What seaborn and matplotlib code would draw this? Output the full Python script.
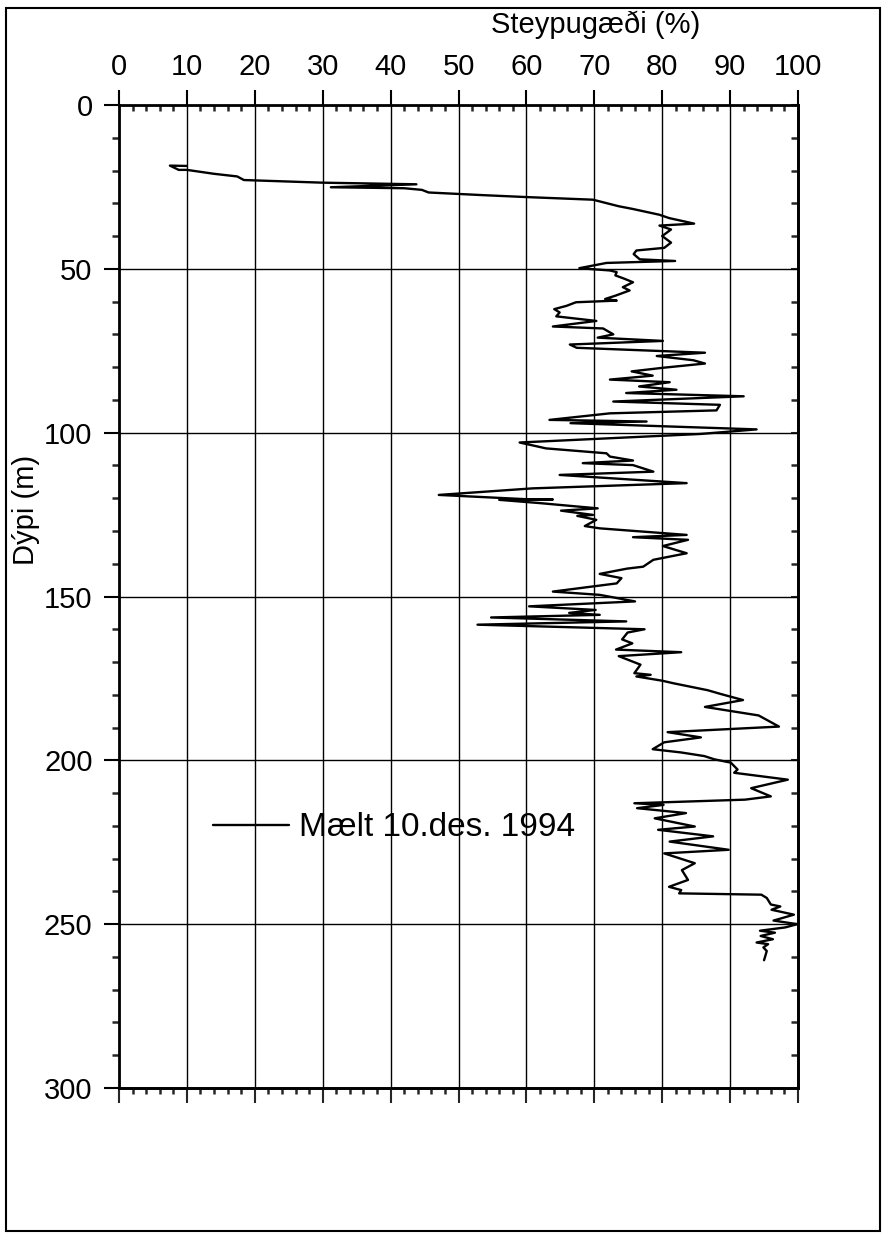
import matplotlib
matplotlib.use('Agg')
import matplotlib.pyplot as plt
import matplotlib.patches as mpatches
from matplotlib.ticker import MultipleLocator
import numpy as np
import pandas as pd
import seaborn as sns

depth = [18.6, 18.5, 19.8, 19.8, 21.0, 21.8, 22.9, 23.7, 24.2, 25.1, 25.4, 25.9, 26.7, 27.5,
         28.1, 28.9, 30.9, 31.7, 33.5, 34.5, 36.2, 36.8, 38.0, 40.0, 42.0, 43.6, 44.4, 45.5,
         47.1, 47.6, 48.2, 49.8, 50.5, 51.0, 52.0, 53.0, 54.1, 55.6, 56.6, 58.2, 59.2, 59.7,
         60.2, 61.3, 62.3, 63.3, 64.5, 65.9, 67.6, 68.2, 70.0, 71.0, 72.0, 73.1, 74.1, 75.6,
         76.6, 77.9, 78.9, 80.2, 81.3, 82.6, 83.8, 84.6, 85.9, 86.9, 87.9, 88.9, 90.5, 91.5,
         93.2, 94.1, 96.1, 96.6, 97.1, 99.0, 100.4, 103.0, 104.8, 106.3, 107.3, 108.5, 109.3,
         109.9, 111.9, 112.9, 115.4, 117.0, 119.0, 120.3, 120.4, 120.5, 121.5, 123.1, 123.8,
         125.1, 125.4, 126.6, 128.5, 129.2, 131.2, 131.9, 132.7, 134.6, 136.8, 138.8, 140.9,
         141.5, 143.1, 144.4, 146.0, 148.5, 149.5, 151.5, 153.0, 154.1, 155.0, 155.6, 156.4,
         157.6, 158.6, 160.0, 161.0, 163.1, 164.3, 166.2, 167.0, 168.2, 170.8, 173.4, 173.9,
         174.4, 175.7, 176.5, 178.6, 179.8, 181.6, 183.7, 184.7, 186.3, 189.7, 191.4, 193.0,
         194.5, 196.6, 197.6, 198.7, 199.7, 200.7, 202.8, 203.8, 205.9, 208.5, 211.0, 212.0,
         213.1, 213.6, 214.6, 216.1, 217.7, 220.2, 221.2, 223.2, 224.8, 227.3, 228.4, 231.4,
         233.5, 236.5, 238.6, 239.6, 240.6, 241.0, 242.0, 244.0, 244.6, 245.6, 247.1, 248.9,
         250.0, 251.0, 252.0, 252.6, 253.6, 254.6, 255.6, 256.1, 257.1, 258.2, 261.0]
quality = [10.0, 7.5, 8.8, 10.0, 14.0, 17.4, 18.4, 29.9, 43.8, 31.2, 42.0, 44.6, 45.6, 53.5,
           60.0, 69.8, 73.6, 75.6, 79.6, 81.0, 84.7, 79.6, 81.3, 80.0, 81.3, 80.3, 76.2, 75.8,
           76.7, 81.9, 71.8, 67.8, 72.3, 73.3, 73.1, 74.4, 75.7, 74.2, 75.2, 73.1, 71.6, 73.3,
           67.3, 65.9, 64.1, 64.9, 64.4, 70.3, 63.9, 71.3, 72.8, 70.5, 80.1, 66.4, 67.4, 86.3,
           79.2, 84.6, 86.3, 80.1, 75.5, 78.6, 72.3, 81.1, 76.6, 82.1, 74.7, 92.0, 72.8, 88.5,
           88.0, 72.3, 63.4, 77.7, 66.5, 93.9, 85.6, 59.0, 62.9, 71.8, 72.3, 75.7, 68.3,
           75.7, 78.7, 64.9, 83.6, 60.9, 47.1, 59.9, 63.9, 56.0, 62.0, 70.5, 65.1,
           69.8, 67.5, 70.3, 68.6, 70.8, 83.6, 75.7, 83.8, 80.1, 83.6, 78.7, 77.2,
           74.8, 70.8, 74.0, 73.3, 63.9, 70.8, 76.0, 60.4, 70.2, 66.3, 70.8, 54.8,
           74.7, 52.8, 77.4, 74.9, 74.1, 75.6, 73.2, 82.8, 73.6, 76.8, 75.9, 78.3,
           76.2, 80.0, 81.7, 86.7, 88.7, 91.9, 86.3, 89.3, 94.2, 97.2, 80.8, 85.7,
           80.3, 78.6, 82.8, 86.2, 87.7, 90.1, 91.1, 90.6, 98.5, 93.1, 96.0, 92.2,
           75.9, 80.2, 76.3, 83.5, 78.9, 84.8, 79.4, 87.5, 81.1, 89.8, 80.3, 84.8,
           82.9, 83.8, 81.0, 82.8, 82.5, 94.6, 95.4, 96.0, 97.4, 96.1, 99.4, 96.4,
           99.9, 98.1, 94.4, 96.6, 94.5, 96.3, 93.9, 95.6, 94.9, 95.4, 95.0]

x_ticks = list(range(0, 101, 10))
y_ticks = list(range(0, 301, 50))
legend_label = 'Mælt 10.des. 1994'

sns.set_theme(style='white')
plt.rcParams['font.family'] = ['Liberation Sans', 'DejaVu Sans']

df = pd.DataFrame({'depth': depth, 'quality': quality})

fig = plt.figure(figsize=(8.84, 12.36), dpi=100)
ax = fig.add_axes([119 / 884, 1 - 1088 / 1236, 679 / 884, 983 / 1236])

sns.lineplot(data=df, x='quality', y='depth', sort=False, estimator=None, orient='y',
             color='black', lw=1.7, label=legend_label, ax=ax)

ax.set_xlim(0, 100)
ax.set_ylim(300, 0)

# grid: vertical every 10 %, horizontal every 50 m
ax.set_xticks(x_ticks)
ax.set_yticks(y_ticks)
ax.xaxis.set_minor_locator(MultipleLocator(2))
ax.yaxis.set_minor_locator(MultipleLocator(10))
ax.grid(True, which='major', color='black', lw=1.0)

for s in ax.spines.values():
    s.set_color('black')
    s.set_linewidth(2.0)

# top axis carries labels, left axis carries labels
ax.xaxis.tick_top()
ax.xaxis.set_label_position('top')
ax.tick_params(axis='x', which='major', direction='out', length=11, width=1.5,
               labelsize=21, pad=6, colors='black')
ax.tick_params(axis='x', which='minor', direction='in', length=4.5, width=1.8, top=True)
ax.tick_params(axis='y', which='major', direction='out', length=11, width=1.5,
               labelsize=21, pad=8, colors='black', left=True)
ax.tick_params(axis='y', which='minor', direction='out', length=5, width=1.8, left=True)

# bottom and right tick rows
sec_x = ax.secondary_xaxis('bottom')
sec_x.set_xticks(x_ticks)
sec_x.xaxis.set_minor_locator(MultipleLocator(2))
sec_x.tick_params(which='major', direction='out', length=11, width=1.5, labelbottom=False)
sec_x.tick_params(which='minor', direction='out', length=4.5, width=1.8)
sec_y = ax.secondary_yaxis('right')
sec_y.set_yticks(y_ticks)
sec_y.yaxis.set_minor_locator(MultipleLocator(10))
sec_y.tick_params(which='major', direction='in', length=5, width=1.5, labelright=False)
sec_y.tick_params(which='minor', direction='in', length=5, width=1.8)
for sec in (sec_x, sec_y):
    for s in sec.spines.values():
        s.set_linewidth(2.0)

ax.set_xlabel('Steypugæði (%)', fontsize=21, color='black')
ax.xaxis.set_label_coords(0.702, 1.073)
ax.set_ylabel('Dýpi (m)', fontsize=21, color='black')
ax.yaxis.set_label_coords(-0.116, 0.588)

ax.legend(loc='center left', bbox_to_anchor=(0.138, 0.2645), frameon=False,
          fontsize=24, labelcolor='black', handlelength=2.3, handletextpad=0.3,
          borderpad=0, borderaxespad=0)

# outer frame round the whole page
fig.patches.append(mpatches.Rectangle((6 / 884, 1 - 1231 / 1236), 874 / 884, 1223 / 1236,
                                      transform=fig.transFigure, fill=False,
                                      ec='black', lw=1.5))

plt.savefig('out.png', dpi=100)
